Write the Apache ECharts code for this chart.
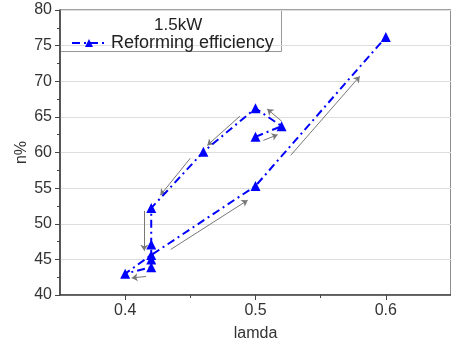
<!DOCTYPE html>
<html><head><meta charset="utf-8">
<script src="https://cdn.jsdelivr.net/npm/echarts@6/dist/echarts.min.js"></script>
<style>html,body{margin:0;padding:0;background:#fff}#c{width:451px;height:347px}</style>
</head><body><div id="c"></div>
<script>
var lamda = [0.5, 0.52, 0.5, 0.46, 0.42, 0.42, 0.42, 0.42, 0.4, 0.42, 0.5, 0.6];
var eff = [62.2, 63.7, 66.2, 60.1, 52.2, 47.1, 45.0, 43.9, 43.0, 45.6, 55.3, 76.2];
var arrowStart = [[0.527, 59.6], [0.435, 46.4], [0.416, 42.6], [0.4146, 51.8], [0.450, 59.2], [0.488, 65.1], [0.52, 64.4], [0.506, 61.7]];
var arrowEnd = [[0.580, 70.7], [0.494, 53.3], [0.405, 42.4], [0.4146, 46.2], [0.427, 54.0], [0.463, 61.0], [0.509, 66.1], [0.517, 62.5]];
var xLabels = [0.4, 0.5, 0.6];
var xMinor = [0.45, 0.55];
var seriesName = 'Reforming efficiency';
var titleText = '1.5kW';

var chart = echarts.init(document.getElementById('c'));
var font = 'Liberation Sans, Arial, sans-serif';
var pts = lamda.map(function (x, i) { return [x, eff[i]]; });
var arrows = arrowStart.map(function (s, i) { return { coords: [s, arrowEnd[i]] }; });
chart.setOption({
  animation: false,
  grid: { left: 60, top: 10, width: 394.5, height: 288, show: true, borderColor: '#444', borderWidth: 1.2, backgroundColor: 'transparent' },
  title: { text: titleText, left: 149, top: 12, textStyle: { fontFamily: font, fontSize: 17, fontWeight: 'normal', color: '#222' } },
  legend: {
    left: 71, top: 34, itemWidth: 34, itemHeight: 10, padding: 0,
    textStyle: { fontFamily: font, fontSize: 18, color: '#222' },
    data: [seriesName]
  },
  graphic: [{ type: 'rect', left: 60, top: 10, shape: { width: 221, height: 41 }, style: { fill: '#fff', stroke: '#999', lineWidth: 1 }, z: 0, silent: true }],
  xAxis: [{
    type: 'value', min: 0.35, max: 0.65, position: 'bottom',
    name: 'lamda', nameLocation: 'middle', nameGap: 31, nameMoveOverlap: false,
    nameTextStyle: { fontFamily: font, fontSize: 16, color: '#333' },
    axisLine: { show: true, lineStyle: { color: '#444', width: 1.5 } },
    axisTick: { show: true, length: 5, customValues: xLabels, lineStyle: { color: '#444' } },
    axisLabel: { customValues: xLabels, fontFamily: font, fontSize: 16, color: '#333', margin: 8 },
    splitLine: { show: false }
  }, {
    type: 'value', min: 0.35, max: 0.65, position: 'bottom', gridIndex: 0,
    axisLine: { show: false },
    axisTick: { show: true, length: 3, customValues: xMinor, lineStyle: { color: '#444' } },
    axisLabel: { show: false },
    splitLine: { show: false }
  }],
  yAxis: {
    type: 'value', min: 40, max: 80, interval: 5,
    name: 'n%', nameLocation: 'middle', nameGap: 30, nameMoveOverlap: false,
    nameTextStyle: { fontFamily: font, fontSize: 16, color: '#333' },
    axisLine: { show: true, lineStyle: { color: '#444', width: 1.5 } },
    axisTick: { show: true, length: 5, lineStyle: { color: '#444' } },
    minorTick: { show: true, splitNumber: 2, length: 3, lineStyle: { color: '#444' } },
    axisLabel: { fontFamily: font, fontSize: 16, color: '#333', margin: 8 },
    splitLine: { show: true, lineStyle: { color: '#ddd', width: 1 } }
  },
  series: [{
    name: seriesName, type: 'line', data: pts, xAxisIndex: 0, z: 5,
    symbol: 'triangle', symbolSize: 10,
    itemStyle: { color: '#0000ff' },
    lineStyle: { color: '#0000ff', width: 2, type: [8, 4, 2, 4] }
  }, {
    type: 'lines', coordinateSystem: 'cartesian2d', xAxisIndex: 0, data: arrows, z: 3,
    symbol: ['none', 'arrow'], symbolSize: 6,
    lineStyle: { color: '#777', width: 1, opacity: 1 }
  }]
});
</script></body></html>
